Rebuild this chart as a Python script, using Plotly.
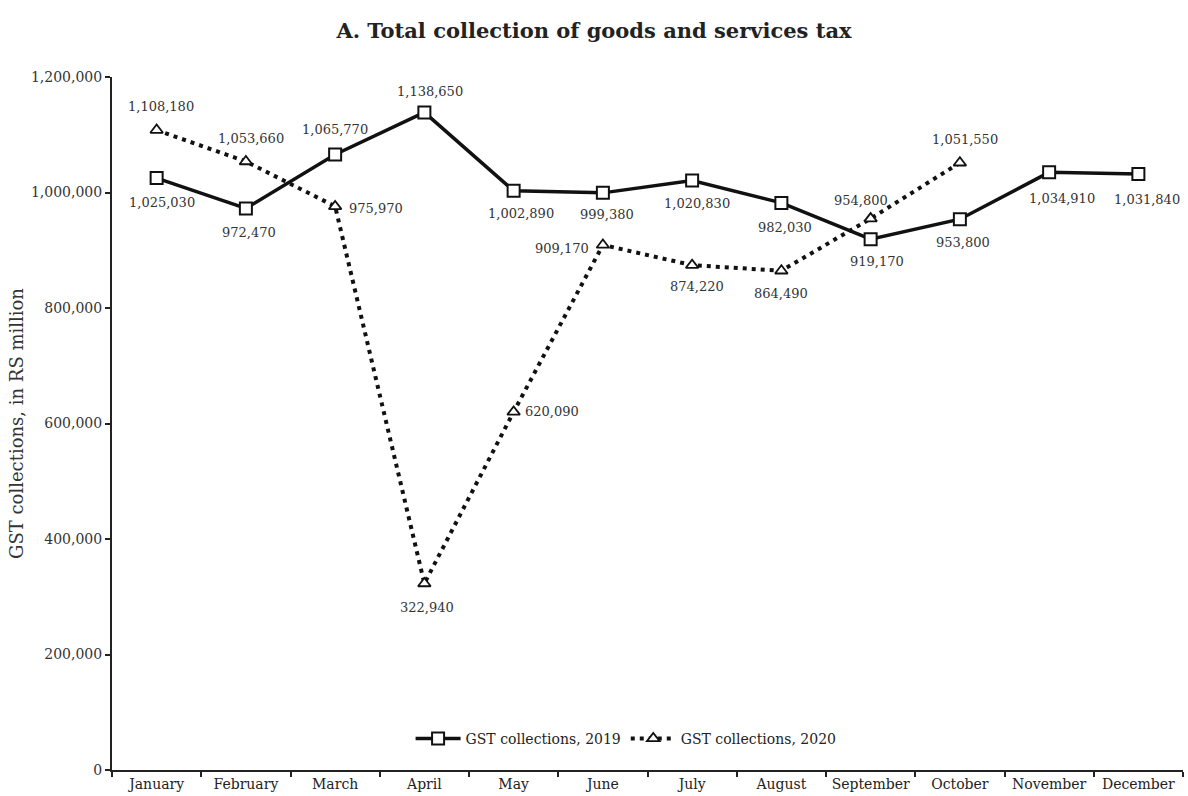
import plotly.graph_objects as go

months = ["January", "February", "March", "April", "May", "June", "July",
          "August", "September", "October", "November", "December"]
gst_2019 = [1025030, 972470, 1065770, 1138650, 1002890, 999380, 1020830,
            982030, 919170, 953800, 1034910, 1031840]
gst_2020 = [1108180, 1053660, 975970, 322940, 620090, 909170, 874220,
            864490, 954800, 1051550, None, None]

# label offsets in pixels (dx right, dy down) relative to each marker
off_2019 = [(5, 24), (3, 24), (0, -25), (6, -21), (7, 23), (4, 22), (5, 23),
            (4, 25), (6, 22), (3, 23), (13, 26), (9, 25)]
off_2020 = [(4, -24), (5, -23), (41, 2), (3, 24), (38, 0), (-41, 4), (5, 21),
            (0, 23), (-10, -18), (5, -23)]

FONT = "DejaVu Serif, Liberation Serif, serif"
TXT = "#333333"

fig = go.Figure()
fig.add_trace(go.Scatter(
    x=months, y=gst_2019, name="GST collections, 2019",
    mode="lines+markers",
    line=dict(color="#111111", width=3.5),
    marker=dict(symbol="square", size=12, color="white", line=dict(width=2, color="#111111")),
    cliponaxis=False,
))
fig.add_trace(go.Scatter(
    x=months, y=gst_2020, name="GST collections, 2020",
    mode="lines+markers",
    line=dict(color="#111111", width=4, dash="4px,5px"),
    marker=dict(symbol="triangle-up", size=11, color="white", line=dict(width=1.8, color="#111111")),
    cliponaxis=False,
))

annotations = []
for series, offs in ((gst_2019, off_2019), (gst_2020, off_2020)):
    for m, v, (dx, dy) in zip(months, series, offs):
        if v is None:
            continue
        annotations.append(dict(
            x=m, y=v, xref="x", yref="y", text=f"{v:,}", showarrow=False,
            xanchor="center", yanchor="middle", xshift=dx, yshift=-dy,
            font=dict(family=FONT, size=13, color=TXT),
        ))

fig.update_layout(
    width=1188, height=796,
    margin=dict(l=112, r=5, t=77, b=26),
    paper_bgcolor="white", plot_bgcolor="white",
    font=dict(family=FONT, size=14, color=TXT),
    title=dict(text="<b>A. Total collection of goods and services tax</b>",
               x=0.5, xanchor="center", y=0.962, yanchor="middle",
               font=dict(family=FONT, size=21, color="#222222")),
    showlegend=True,
    legend=dict(orientation="h", x=0.48, xanchor="center", y=0.045, yanchor="middle",
                bgcolor="rgba(0,0,0,0)", font=dict(family=FONT, size=14, color="#222222"),
                itemwidth=45),
    annotations=annotations,
    xaxis=dict(
        type="category", range=[-0.5, 11.5],
        showline=True, linecolor="#222222", linewidth=2,
        ticks="outside", tickson="boundaries", ticklen=5, tickcolor="#222222", tickwidth=2,
        showgrid=False, zeroline=False,
        tickfont=dict(family=FONT, size=14, color="#222222"),
    ),
    yaxis=dict(
        range=[0, 1200000], tickvals=[0, 200000, 400000, 600000, 800000, 1000000, 1200000],
        tickformat=",d",
        showline=True, linecolor="#222222", linewidth=2,
        ticks="outside", ticklen=5, tickcolor="#222222", tickwidth=2,
        showgrid=False, zeroline=False,
        tickfont=dict(family=FONT, size=14, color=TXT),
        title=dict(text="GST collections, in RS million", standoff=3,
                   font=dict(family=FONT, size=18, color=TXT)),
    ),
)

fig.write_html("out.html")
